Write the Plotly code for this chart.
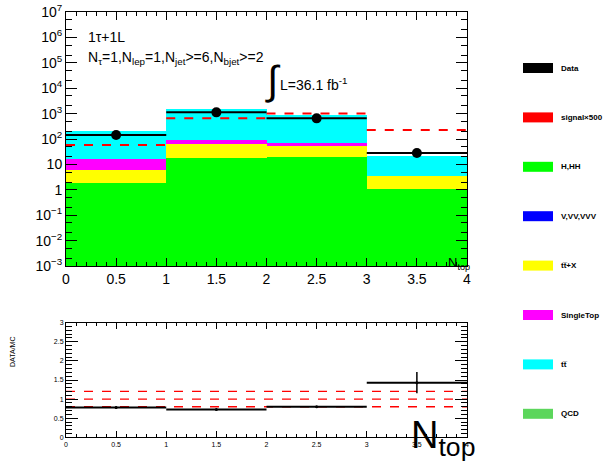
import plotly.graph_objects as go

W, H = 606, 466

# ---------------- data ----------------
bin_edges = [0, 1, 2, 3, 4]
bin_centers = [0.5, 1.5, 2.5, 3.5]

# stacked backgrounds (bottom -> top)
h_hh = [1.8, 18.0, 19.5, 1.1]
v_vv_vvv = [0.0, 0.0, 0.0, 0.0]
ttx = [4.2, 45.0, 38.5, 2.4]
single_top = [10.0, 28.0, 10.0, 0.0]
ttbar = [191.0, 1409.0, 812.0, 17.5]
qcd = [0.0, 0.0, 0.0, 0.0]

data_vals = [144.0, 1120.0, 650.0, 28.0]
signal_x500 = [58.0, 650.0, 1020.0, 226.0]

ratio_vals = [0.78, 0.73, 0.80, 1.43]
ratio_err = [0.03, 0.02, 0.02, 0.28]
ratio_ref_lines = [0.8, 1.0, 1.2]

ytick_vals = [1e-3, 1e-2, 1e-1, 1, 10, 1e2, 1e3, 1e4, 1e5, 1e6, 1e7]
ytick_text = ["10<sup>\u22123</sup>", "10<sup>\u22122</sup>", "10<sup>\u22121</sup>", "1", "10",
              "10<sup>2</sup>", "10<sup>3</sup>", "10<sup>4</sup>", "10<sup>5</sup>",
              "10<sup>6</sup>", "10<sup>7</sup>"]
xtick_vals = [0, 0.5, 1, 1.5, 2, 2.5, 3, 3.5, 4]
xtick_text = ["0", "0.5", "1", "1.5", "2", "2.5", "3", "3.5", "4"]
rtick_vals = [0, 0.5, 1, 1.5, 2, 2.5, 3]
rtick_text = ["0", "0.5", "1", "1.5", "2", "2.5", "3"]

legend_labels = ["Data", "signal\u00d7500", "H,HH", "V,VV,VVV", "t\u0074\u0305+X", "SingleTop", "t\u0074\u0305", "QCD"]
legend_colors = ["#000000", "#ff0000", "#00ff00", "#0000ff", "#ffff00", "#ff00ff", "#00ffff", "#5cd65c"]

FONT = "Liberation Sans, Arial, Helvetica, sans-serif"

fig = go.Figure()

stack = [("H,HH", h_hh, "#00ff00"), ("V,VV,VVV", v_vv_vvv, "#0000ff"),
         ("ttX", ttx, "#ffff00"), ("SingleTop", single_top, "#ff00ff"),
         ("tt", ttbar, "#00ffff"), ("QCD", qcd, "#5cd65c")]
for name, vals, col in stack:
    fig.add_trace(go.Bar(x=bin_centers, y=vals, width=[1] * len(vals), name=name,
                         marker=dict(color=col, line=dict(width=0)),
                         xaxis="x", yaxis="y", showlegend=False))

# signal dashed step segments
sx, sy = [], []
for i, v in enumerate(signal_x500):
    sx += [bin_edges[i], bin_edges[i + 1], None]
    sy += [v, v, None]
fig.add_trace(go.Scatter(x=sx, y=sy, mode="lines", line=dict(color="#ff0000", width=2, dash="dash"),
                         xaxis="x", yaxis="y", showlegend=False))

# data
fig.add_trace(go.Scatter(x=bin_centers, y=data_vals, mode="markers",
                         marker=dict(color="black", size=10),
                         error_x=dict(type="constant", value=0.5, width=0, thickness=2, color="black"),
                         xaxis="x", yaxis="y", showlegend=False))

# ratio panel
fig.add_trace(go.Scatter(x=bin_centers, y=ratio_vals, mode="markers",
                         marker=dict(color="black", size=3),
                         error_x=dict(type="constant", value=0.5, width=0, thickness=2, color="black"),
                         error_y=dict(type="data", array=ratio_err, width=0, thickness=1.5, color="black"),
                         xaxis="x2", yaxis="y2", showlegend=False))

shapes = []
for r in ratio_ref_lines:
    shapes.append(dict(type="line", xref="x2", yref="y2", x0=bin_edges[0], x1=bin_edges[-1], y0=r, y1=r,
                       line=dict(color="#ff0000", width=1.3, dash="dash"), layer="below"))


def px(x):
    return x / W


def py(y):
    return 1 - y / H


xd = [px(66), px(467)]
top_dom = [py(266), py(12)]
rat_dom = [py(437.3), py(322.7)]

annotations = []
annotations.append(dict(x=px(86), y=py(37), xref="paper", yref="paper", text="1\u03c4+1L",
                        showarrow=False, xanchor="left", yanchor="middle", font=dict(size=14, family=FONT, color="black")))
annotations.append(dict(x=px(86), y=py(58), xref="paper", yref="paper",
                        text="N<sub>\u03c4</sub>=1,N<sub>lep</sub>=1,N<sub>jet</sub>>=6,N<sub>bjet</sub>>=2",
                        showarrow=False, xanchor="left", yanchor="middle", font=dict(size=14, family=FONT, color="black")))
annotations.append(dict(x=px(263), y=py(81), xref="paper", yref="paper", text="\u222b",
                        showarrow=False, xanchor="left", yanchor="middle", font=dict(size=40, family=FONT, color="black")))
annotations.append(dict(x=px(278), y=py(84), xref="paper", yref="paper", text="L=36.1 fb<sup>-1</sup>",
                        showarrow=False, xanchor="left", yanchor="middle", font=dict(size=14, family=FONT, color="black")))
annotations.append(dict(x=px(472), y=py(274), xref="paper", yref="paper", text="N<sub>top</sub>",
                        showarrow=False, xanchor="right", yanchor="bottom", font=dict(size=13, family=FONT, color="black")))
annotations.append(dict(x=px(477), y=py(464), xref="paper", yref="paper", text="N<sub>top</sub>",
                        showarrow=False, xanchor="right", yanchor="bottom", font=dict(size=38, family=FONT, color="black")))
annotations.append(dict(x=px(12), y=py(352), xref="paper", yref="paper", text="DATA/MC", textangle=-90,
                        showarrow=False, xanchor="center", yanchor="middle", font=dict(size=7, family=FONT, color="black")))

# manual legend
leg_y0, leg_dy = 68, 49.4
for i, (lab, col) in enumerate(zip(legend_labels, legend_colors)):
    yc = leg_y0 + i * leg_dy
    shapes.append(dict(type="rect", xref="paper", yref="paper", x0=px(523), x1=px(553),
                       y0=py(yc + 5), y1=py(yc - 5), fillcolor=col, line=dict(width=0)))
    annotations.append(dict(x=px(559), y=py(yc), xref="paper", yref="paper", text="<b>" + lab + "</b>",
                            showarrow=False, xanchor="left", yanchor="middle",
                            font=dict(size=8, family=FONT, color="black")))

axis_common = dict(showline=True, linecolor="black", linewidth=1, mirror="allticks",
                   ticks="inside", tickcolor="black", showgrid=False, zeroline=False, automargin=False)

fig.update_layout(
    width=W, height=H, margin=dict(l=0, r=0, t=0, b=0, pad=0, autoexpand=False),
    paper_bgcolor="white", plot_bgcolor="white",
    barmode="stack", bargap=0, showlegend=False,
    font=dict(family=FONT, color="black"),
    xaxis=dict(domain=xd, range=[0, 4], anchor="y", tickvals=xtick_vals, ticktext=xtick_text,
               ticklen=8, tickfont=dict(size=14, family=FONT),
               minor=dict(ticks="inside", ticklen=4, dtick=0.1, tickcolor="black"), **axis_common),
    yaxis=dict(domain=top_dom, type="log", range=[-3.0001, 7.0001], anchor="x", tickvals=ytick_vals, ticktext=ytick_text,
               ticklen=11, tickfont=dict(size=14, family=FONT),
               minor=dict(ticks="inside", ticklen=6, tickcolor="black"), **axis_common),
    xaxis2=dict(domain=xd, range=[0, 4], anchor="y2", tickvals=xtick_vals, ticktext=xtick_text,
                ticklen=6, tickfont=dict(size=7, family=FONT),
                minor=dict(ticks="inside", ticklen=3, dtick=0.1, tickcolor="black"), **axis_common),
    yaxis2=dict(domain=rat_dom, range=[0, 3], anchor="x2", tickvals=rtick_vals, ticktext=rtick_text,
                ticklen=12, tickfont=dict(size=7, family=FONT),
                minor=dict(ticks="inside", ticklen=6, dtick=0.1, tickcolor="black"), **axis_common),
    shapes=shapes, annotations=annotations,
)

fig.write_html("out.html", config={"displayModeBar": False},
               post_script="document.body.style.margin='0';document.body.style.overflow='hidden';")
